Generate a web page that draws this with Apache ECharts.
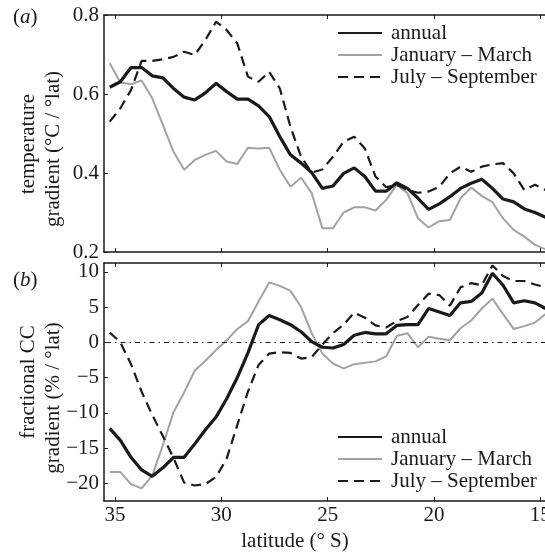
<!DOCTYPE html>
<html>
<head>
<meta charset="utf-8">
<script src="https://cdn.jsdelivr.net/npm/echarts@6/dist/echarts.min.js"></script>
<style>
	html, body { margin: 0; padding: 0; background: #fff; }
	#charts { width: 545px; height: 555px; }
</style>
</head>
<body>
<div id="charts"></div>
<script>
// latitude (deg S), one value every half degree
const lats = [35.25, 34.75, 34.25, 33.75, 33.25, 32.75, 32.25, 31.75, 31.25, 30.75,
	30.25, 29.75, 29.25, 28.75, 28.25, 27.75, 27.25, 26.75, 26.25, 25.75,
	25.25, 24.75, 24.25, 23.75, 23.25, 22.75, 22.25, 21.75, 21.25, 20.75,
	20.25, 19.75, 19.25, 18.75, 18.25, 17.75, 17.25, 16.75, 16.25, 15.75,
	15.25, 14.75];

// (a) temperature gradient
const tempAnnual = [0.617, 0.631, 0.667, 0.667, 0.646, 0.641, 0.614, 0.592, 0.585, 0.603,
	0.627, 0.606, 0.587, 0.587, 0.570, 0.543, 0.492, 0.446, 0.425, 0.401,
	0.361, 0.367, 0.399, 0.413, 0.391, 0.354, 0.354, 0.375, 0.361, 0.336,
	0.308, 0.322, 0.340, 0.361, 0.374, 0.384, 0.361, 0.334, 0.327, 0.309,
	0.300, 0.288];
const tempJFM = [0.678, 0.629, 0.625, 0.634, 0.589, 0.522, 0.454, 0.408, 0.433, 0.446,
	0.456, 0.429, 0.423, 0.464, 0.462, 0.464, 0.408, 0.365, 0.388, 0.349,
	0.260, 0.260, 0.300, 0.313, 0.313, 0.305, 0.332, 0.370, 0.349, 0.285,
	0.262, 0.278, 0.281, 0.336, 0.363, 0.342, 0.326, 0.285, 0.256, 0.239,
	0.218, 0.207];
const tempJAS = [0.530, 0.564, 0.610, 0.684, 0.684, 0.688, 0.694, 0.707, 0.699, 0.737,
	0.783, 0.762, 0.728, 0.644, 0.631, 0.656, 0.614, 0.517, 0.441, 0.401,
	0.409, 0.441, 0.479, 0.492, 0.462, 0.391, 0.364, 0.370, 0.357, 0.350,
	0.353, 0.365, 0.399, 0.416, 0.403, 0.416, 0.422, 0.425, 0.399, 0.357,
	0.370, 0.357];

// (b) fractional cloud cover gradient
const ccAnnual = [-12.2, -13.9, -16.3, -18.1, -19.0, -17.8, -16.3, -16.3, -14.4, -12.4,
	-10.6, -8.0, -5.0, -1.5, 2.5, 3.8, 3.2, 2.5, 1.5, 0.1,
	-0.7, -0.8, -0.3, 1.0, 1.4, 1.2, 1.2, 2.4, 2.5, 2.5,
	4.8, 4.3, 3.8, 5.6, 5.8, 7.0, 9.8, 8.1, 5.6, 5.9,
	5.6, 4.8];
const ccJFM = [-18.4, -18.4, -20.1, -20.7, -18.9, -14.6, -9.9, -7.1, -4.0, -2.6,
	-1.1, 0.3, 1.9, 3.0, 5.8, 8.5, 8.0, 7.3, 5.0, 1.3,
	-1.6, -3.0, -3.7, -3.1, -2.9, -2.7, -2.0, 0.9, 1.3, -0.7,
	0.8, 0.5, 0.3, 2.0, 3.1, 4.8, 6.2, 4.0, 1.9, 2.3,
	2.8, 4.0];
const ccJAS = [1.4, 0.0, -3.1, -7.0, -10.3, -13.3, -16.4, -19.9, -20.3, -20.1,
	-19.1, -16.5, -11.7, -7.0, -3.2, -1.6, -1.4, -1.5, -2.3, -2.1,
	-0.3, 1.3, 2.5, 4.2, 3.5, 2.4, 2.1, 3.0, 3.6, 5.3,
	6.9, 6.7, 5.2, 7.8, 8.4, 8.1, 10.9, 9.4, 8.7, 8.7,
	8.2, 7.8];

const latTicks = [15, 20, 25, 30, 35];
const ccTicks = [-20, -15, -10, -5, 0, 5, 10];
const names = ['annual', 'January \u2013 March', 'July \u2013 September'];

const FONT = 'Liberation Serif';
const INK = '#1a1a1a';
const GREY = '#a2a2a2';

const pairs = (vals) => lats.map((l, i) => [l, vals[i]]);

const xAxisFor = (grid, pos, labels) => ({
	type: 'value',
	gridIndex: grid,
	position: pos,
	inverse: true,
	min: 14.73,
	max: 35.52,
	splitLine: { show: false },
	axisLine: { show: true, onZero: false, lineStyle: { color: INK, width: 1.5 } },
	axisTick: { show: true, inside: true, length: 4, customValues: latTicks, lineStyle: { color: INK, width: 1 } },
	axisLabel: {
		show: labels,
		customValues: latTicks,
		margin: 4,
		color: INK,
		fontFamily: FONT,
		fontSize: 21
	}
});

const lineSeries = (name, grid, vals, kind) => {
	const styles = {
		annual: { color: INK, width: 3.2, type: 'solid' },
		jfm: { color: GREY, width: 2, type: 'solid' },
		jas: { color: INK, width: 2.2, type: [10, 6] }
	};
	return {
		type: 'line',
		name: name,
		xAxisIndex: grid * 2,
		yAxisIndex: grid,
		data: pairs(vals),
		symbol: 'none',
		color: styles[kind].color,
		lineStyle: styles[kind],
		z: kind === 'annual' ? 4 : 3,
		animation: false
	};
};

const legendFor = (top) => ({
	orient: 'vertical',
	left: 337,
	top: top,
	padding: 0,
	itemWidth: 44,
	itemHeight: 14,
	itemGap: 0,
	data: names,
	selectedMode: false,
	itemStyle: { color: 'rgba(0,0,0,0)', borderWidth: 0, opacity: 0 },
	textStyle: {
		fontFamily: FONT,
		fontSize: 21,
		color: INK,
		lineHeight: 22,
		padding: [0, 0, 0, 4]
	}
});

const titleText = (text, x, y) => ({
	type: 'text',
	x: x,
	y: y,
	rotation: Math.PI / 2,
	style: {
		text: text,
		fontFamily: FONT,
		fontSize: 21,
		fill: INK,
		textAlign: 'center',
		textVerticalAlign: 'middle'
	}
});

const panelTag = (letter, y) => ({
	type: 'text',
	x: 13,
	y: y,
	style: {
		text: '(' + '{i|' + letter + '})',
		fontFamily: FONT,
		fontSize: 21,
		fill: INK,
		textVerticalAlign: 'middle',
		rich: { i: { fontFamily: FONT, fontSize: 21, fontStyle: 'italic', fill: INK } }
	}
});

const myChart = echarts.init(document.getElementById('charts'), null, { renderer: 'canvas' });

const option = {
	animation: false,
	backgroundColor: '#fff',
	grid: [
		{ left: 104, top: 15, width: 442, height: 237, outerBoundsMode: 'none', containLabel: false },
		{ left: 104, top: 263, width: 442, height: 238, outerBoundsMode: 'none', containLabel: false }
	],
	xAxis: [
		xAxisFor(0, 'bottom', false),
		xAxisFor(0, 'top', false),
		xAxisFor(1, 'bottom', true),
		xAxisFor(1, 'top', false)
	],
	yAxis: [
		{
			type: 'value',
			gridIndex: 0,
			min: 0.2,
			max: 0.8,
			interval: 0.2,
			splitLine: { show: false },
			axisLine: { show: true, lineStyle: { color: INK, width: 1.5 } },
			axisTick: { inside: true, length: 4, lineStyle: { color: INK, width: 1 } },
			axisLabel: {
				margin: 5,
				color: INK,
				fontFamily: FONT,
				fontSize: 21,
				formatter: (v) => v.toFixed(1)
			}
		},
		{
			type: 'value',
			gridIndex: 1,
			min: -22.5,
			max: 11.25,
			splitLine: { show: false },
			axisLine: { show: true, onZero: false, lineStyle: { color: INK, width: 1.5 } },
			axisTick: { inside: true, length: 4, customValues: ccTicks, lineStyle: { color: INK, width: 1 } },
			axisLabel: {
				customValues: ccTicks,
				margin: 5,
				color: INK,
				fontFamily: FONT,
				fontSize: 21,
				formatter: (v) => String(v).replace('-', '\u2212')
			}
		}
	],
	legend: [legendFor(22), legendFor(426)],
	graphic: [
		panelTag('a', 17),
		panelTag('b', 280),
		titleText('temperature', 28, 144),
		titleText('gradient (\u00b0C / \u00b0lat)', 53, 149),
		titleText('fractional CC', 28, 382),
		titleText('gradient (% / \u00b0lat)', 53, 398),
		{
			type: 'text',
			x: 295,
			y: 541,
			style: {
				text: 'latitude (\u00b0 S)',
				fontFamily: FONT,
				fontSize: 21,
				fill: INK,
				textAlign: 'center',
				textVerticalAlign: 'middle'
			}
		}
	],
	series: [
		lineSeries(names[1], 0, tempJFM, 'jfm'),
		lineSeries(names[2], 0, tempJAS, 'jas'),
		lineSeries(names[0], 0, tempAnnual, 'annual'),
		Object.assign(lineSeries(names[1], 1, ccJFM, 'jfm'), {
			markLine: {
				silent: true,
				symbol: 'none',
				label: { show: false },
				lineStyle: { color: INK, width: 1, type: [5, 4, 1.5, 4] },
				data: [{ yAxis: 0 }]
			}
		}),
		lineSeries(names[2], 1, ccJAS, 'jas'),
		lineSeries(names[0], 1, ccAnnual, 'annual')
	]
};

myChart.setOption(option);
</script>
</body>
</html>
